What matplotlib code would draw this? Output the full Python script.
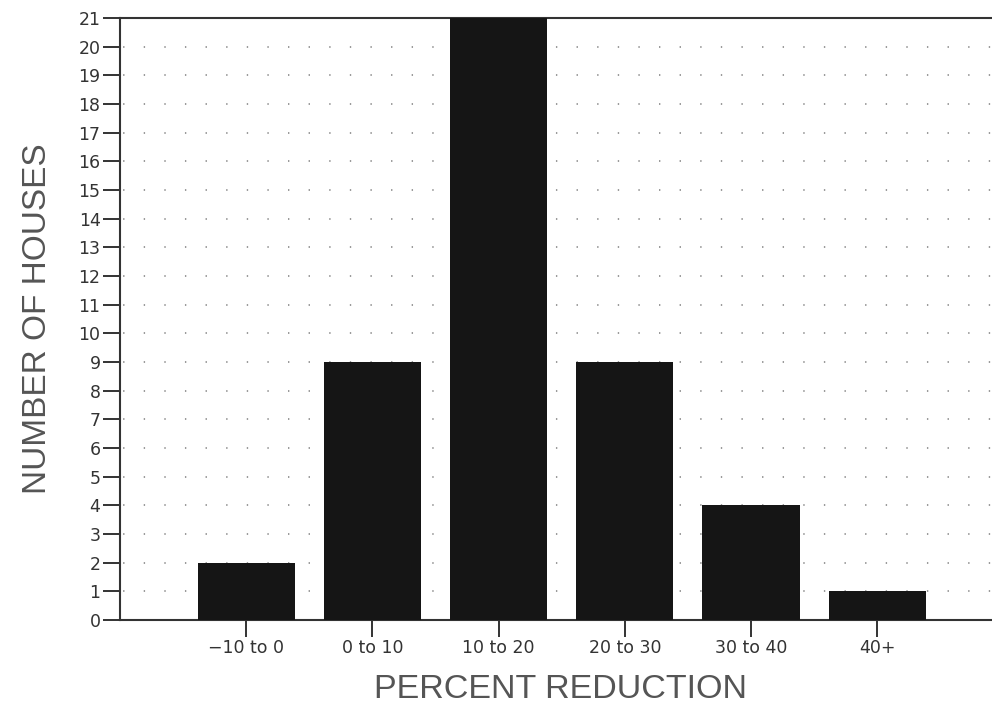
import matplotlib
matplotlib.use("Agg")
import matplotlib.pyplot as plt
import numpy as np

# data
categories = ['\u221210 to 0', '0 to 10', '10 to 20', '20 to 30', '30 to 40', '40+']
houses = [2, 9, 21, 9, 4, 1]
yticks = list(range(0, 22))

plt.rcParams['font.family'] = ['DejaVu Sans']

fig = plt.figure(figsize=(9.92, 7.06), dpi=100)
ax = fig.add_axes([120 / 992, 86 / 706, 1 - 120 / 992, (620 - 18) / 706])

x = np.arange(len(categories))
ax.bar(x, houses, width=0.77, color='#151515', zorder=3)

# dotted grid rows
for y in yticks[1:-1]:
    ax.axhline(y, color='#999999', linewidth=1.4, linestyle=(9, (0.7, 9.9)), zorder=1)

ax.set_xlim(-1.0, 5.91)
ax.set_ylim(0, 21)
ax.set_xticks(x)
ax.set_xticklabels(categories, fontsize=12.5, color='#333333')
ax.set_yticks(yticks)
ax.set_yticklabels([str(v) for v in yticks], fontsize=12.5, color='#333333')
ax.tick_params(axis='y', direction='out', length=12, width=1.4, color='#333333', pad=2)
ax.tick_params(axis='x', direction='out', length=12, width=1.4, color='#333333', pad=2)

for side in ['left', 'bottom', 'top']:
    ax.spines[side].set_color('#333333')
    ax.spines[side].set_linewidth(1.5)
ax.spines['right'].set_visible(False)

ax.set_ylabel('NUMBER OF HOUSES', fontsize=24, color='#555555', labelpad=18,
              family='Liberation Sans')
fig.text(0.565, 8 / 706, 'PERCENT REDUCTION', fontsize=24.5, color='#555555',
         ha='center', va='baseline', family='Liberation Sans')

fig.savefig('out.png', dpi=100)
